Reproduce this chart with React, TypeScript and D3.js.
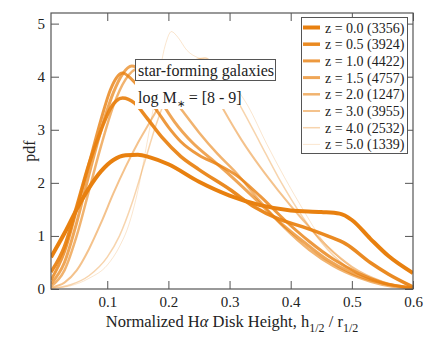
import React, { useEffect, useRef } from "react";
import * as d3 from "d3";

// redshift bins and sample sizes
const zLabels = ["0.0", "0.5", "1.0", "1.5", "2.0", "3.0", "4.0", "5.0"];
const counts = [3356, 3924, 4422, 4757, 1247, 3955, 2532, 1339];

// curves: x = h1/2 / r1/2, y = pdf
const x00 = [0.008, 0.03, 0.05, 0.07, 0.09, 0.11, 0.13, 0.15, 0.17, 0.2, 0.25, 0.3, 0.35, 0.4, 0.45, 0.48, 0.5, 0.53, 0.56, 0.6];
const y00 = [0.6, 1.05, 1.5, 1.9, 2.22, 2.43, 2.52, 2.53, 2.48, 2.35, 2.02, 1.76, 1.58, 1.48, 1.45, 1.42, 1.3, 0.95, 0.62, 0.3];

const x05 = [0.008, 0.03, 0.05, 0.07, 0.09, 0.105, 0.125, 0.145, 0.165, 0.19, 0.22, 0.25, 0.3, 0.34, 0.38, 0.42, 0.46, 0.49, 0.53, 0.56, 0.6];
const y05 = [0.32, 0.8, 1.55, 2.35, 3.0, 3.4, 3.6, 3.5, 3.22, 2.85, 2.5, 2.25, 1.88, 1.55, 1.32, 1.17, 1.0, 0.85, 0.5, 0.28, 0.04];

const x10 = [0.008, 0.03, 0.05, 0.07, 0.09, 0.105, 0.115, 0.125, 0.14, 0.16, 0.18, 0.2, 0.22, 0.25, 0.28, 0.31, 0.35, 0.39, 0.43, 0.47, 0.51, 0.55, 0.6];
const y10 = [0.17, 0.7, 1.5, 2.35, 3.2, 3.75, 3.98, 4.07, 3.95, 3.68, 3.38, 3.05, 2.78, 2.52, 2.35, 2.15, 1.75, 1.3, 0.9, 0.56, 0.3, 0.12, 0.02];

const x15 = [0.008, 0.03, 0.05, 0.07, 0.09, 0.11, 0.125, 0.14, 0.155, 0.17, 0.19, 0.21, 0.24, 0.27, 0.3, 0.34, 0.38, 0.42, 0.46, 0.5, 0.55, 0.6];
const y15 = [0.1, 0.5, 1.25, 2.15, 3.0, 3.7, 4.05, 4.2, 4.12, 3.9, 3.5, 3.15, 2.75, 2.45, 2.15, 1.72, 1.28, 0.9, 0.55, 0.3, 0.11, 0.02];

const x20 = [0.008, 0.03, 0.05, 0.07, 0.09, 0.11, 0.13, 0.15, 0.165, 0.18, 0.2, 0.22, 0.25, 0.28, 0.31, 0.35, 0.39, 0.43, 0.47, 0.51, 0.55, 0.6];
const y20 = [0.05, 0.35, 1.0, 1.85, 2.7, 3.45, 3.95, 4.15, 4.12, 3.98, 3.7, 3.4, 2.95, 2.55, 2.2, 1.65, 1.15, 0.74, 0.43, 0.22, 0.08, 0.01];

const x30 = [0.008, 0.03, 0.05, 0.07, 0.09, 0.11, 0.13, 0.15, 0.17, 0.19, 0.21, 0.23, 0.25, 0.27, 0.29, 0.32, 0.35, 0.38, 0.42, 0.46, 0.5, 0.55, 0.6];
const y30 = [0.03, 0.12, 0.35, 0.75, 1.25, 1.8, 2.3, 2.75, 3.15, 3.55, 3.95, 4.15, 4.1, 3.8, 3.38, 2.8, 2.3, 1.85, 1.3, 0.8, 0.42, 0.14, 0.01];

const x40 = [0.008, 0.04, 0.07, 0.1, 0.12, 0.14, 0.16, 0.18, 0.2, 0.22, 0.24, 0.26, 0.28, 0.3, 0.32, 0.35, 0.38, 0.42, 0.46, 0.5, 0.55, 0.6];
const y40 = [0.01, 0.08, 0.25, 0.6, 1.0, 1.6, 2.35, 3.1, 3.7, 4.1, 4.3, 4.35, 4.15, 3.8, 3.4, 2.75, 2.1, 1.35, 0.75, 0.35, 0.1, 0.01];

const x50 = [0.008, 0.04, 0.07, 0.1, 0.12, 0.135, 0.15, 0.165, 0.18, 0.195, 0.205, 0.215, 0.23, 0.25, 0.27, 0.29, 0.31, 0.33, 0.36, 0.39, 0.42, 0.45, 0.5, 0.55, 0.6];
const y50 = [0.01, 0.06, 0.2, 0.45, 0.8, 1.2, 1.85, 2.75, 3.7, 4.6, 4.85, 4.75, 4.5, 4.35, 4.3, 4.1, 3.8, 3.45, 2.75, 2.1, 1.5, 0.95, 0.4, 0.12, 0.01];

const xs = [x00, x05, x10, x15, x20, x30, x40, x50];
const ys = [y00, y05, y10, y15, y20, y30, y40, y50];

const xTicks = [0.1, 0.2, 0.3, 0.4, 0.5, 0.6];
const yTicks = [0, 1, 2, 3, 4, 5];

const ORANGE = "#e8800f";
const widths = [4, 3.5, 3, 3, 2.5, 2, 1.5, 1];
const alphas = [1, 0.92, 0.8, 0.7, 0.6, 0.48, 0.34, 0.2];

const FONT = "Liberation Serif, Times New Roman, serif";

export default function App() {
  const ref = useRef<SVGSVGElement>(null);

  useEffect(() => {
    const svg = d3.select(ref.current);
    svg.selectAll("*").remove();

    const left = 51, right = 413, top = 13, bottom = 289;
    const x = d3.scaleLinear().domain([0.008, 0.6]).range([left, right]);
    const y = d3.scaleLinear().domain([0, 5.2]).range([bottom, top]);
    const axisCol = "#555";

    const line = d3
      .line<[number, number]>()
      .x((d) => x(d[0]))
      .y((d) => y(d[1]))
      .curve(d3.curveMonotoneX);

    const clip = svg.append("clipPath").attr("id", "plotclip");
    clip.append("rect").attr("x", left).attr("y", top).attr("width", right - left).attr("height", bottom - top);

    // curves, lightest at the back
    const g = svg.append("g").attr("clip-path", "url(#plotclip)");
    for (let i = xs.length - 1; i >= 0; i--) {
      const pts = xs[i].map((v, j) => [v, ys[i][j]] as [number, number]);
      g.append("path")
        .attr("d", line(pts))
        .attr("fill", "none")
        .attr("stroke", ORANGE)
        .attr("stroke-opacity", alphas[i])
        .attr("stroke-width", widths[i]);
    }

    // frame + inward ticks on all sides
    svg.append("g")
      .attr("transform", `translate(0,${bottom})`)
      .call(d3.axisBottom(x).tickValues(xTicks).tickSizeInner(-8).tickSizeOuter(0).tickPadding(7).tickFormat(d3.format(".1f")))
      .call((a) => a.select(".domain").remove())
      .call((a) => a.attr("font-family", FONT).attr("font-size", 15))
      .call((a) => a.selectAll("line").attr("stroke", axisCol))
      .call((a) => a.selectAll("text").attr("fill", "#222"));
    svg.append("g")
      .attr("transform", `translate(0,${top})`)
      .call(d3.axisTop(x).tickValues(xTicks).tickSizeInner(-8).tickSizeOuter(0).tickFormat(() => ""))
      .call((a) => a.select(".domain").remove())
      .call((a) => a.selectAll("line").attr("stroke", axisCol));
    svg.append("g")
      .attr("transform", `translate(${left},0)`)
      .call(d3.axisLeft(y).tickValues(yTicks).tickSizeInner(-8).tickSizeOuter(0).tickPadding(6).tickFormat(d3.format("d")))
      .call((a) => a.select(".domain").remove())
      .call((a) => a.attr("font-family", FONT).attr("font-size", 15))
      .call((a) => a.selectAll("line").attr("stroke", axisCol))
      .call((a) => a.selectAll("text").attr("fill", "#222"));
    svg.append("g")
      .attr("transform", `translate(${right},0)`)
      .call(d3.axisRight(y).tickValues(yTicks).tickSizeInner(-8).tickSizeOuter(0).tickFormat(() => ""))
      .call((a) => a.select(".domain").remove())
      .call((a) => a.selectAll("line").attr("stroke", axisCol));
    svg.append("rect")
      .attr("x", left).attr("y", top).attr("width", right - left).attr("height", bottom - top)
      .attr("fill", "none").attr("stroke", axisCol).attr("stroke-width", 1.2);

    // axis titles
    const xt = svg.append("text")
      .attr("x", (left + right) / 2).attr("y", 327)
      .attr("text-anchor", "middle").attr("font-size", 16.5).attr("fill", "#222");
    xt.append("tspan").text("Normalized H");
    xt.append("tspan").attr("font-style", "italic").text("\u03b1");
    xt.append("tspan").text(" Disk Height, h");
    xt.append("tspan").attr("font-size", 12).attr("dy", 5).text("1/2");
    xt.append("tspan").attr("dy", -5).text(" / r");
    xt.append("tspan").attr("font-size", 12).attr("dy", 5).text("1/2");

    svg.append("text")
      .attr("transform", `translate(35,${(top + bottom) / 2}) rotate(-90)`)
      .attr("text-anchor", "middle").attr("font-size", 16).attr("fill", "#222")
      .text("pdf");

    // annotation
    svg.append("rect").attr("x", 135).attr("y", 81).attr("width", 105).attr("height", 28).attr("fill", "white");
    svg.append("rect").attr("x", 135.5).attr("y", 59.5).attr("width", 140).attr("height", 21)
      .attr("fill", "white").attr("stroke", axisCol);
    svg.append("text").attr("x", 138).attr("y", 76).attr("font-size", 16).attr("fill", "#222")
      .text("star-forming galaxies");
    const lm = svg.append("text").attr("x", 138).attr("y", 103).attr("font-size", 16).attr("fill", "#222");
    lm.append("tspan").text("log M");
    lm.append("tspan").attr("font-size", 10).attr("dy", 4).text("\u2217");
    lm.append("tspan").attr("dy", -4).text(" = [8 - 9]");

    // legend
    svg.append("rect").attr("x", 301.5).attr("y", 17.5).attr("width", 106).attr("height", 136)
      .attr("fill", "white").attr("stroke", axisCol);
    zLabels.forEach((z, i) => {
      const yy = 27.5 + i * 16.7;
      svg.append("line").attr("x1", 303).attr("x2", 320).attr("y1", yy).attr("y2", yy)
        .attr("stroke", ORANGE).attr("stroke-opacity", alphas[i]).attr("stroke-width", widths[i]);
      svg.append("text").attr("x", 325).attr("y", yy + 5)
        .attr("font-size", 14).attr("fill", "#222")
        .text(`z = ${z} (${counts[i]})`);
    });
  }, []);

  return (
    <svg
      ref={ref}
      width={436}
      height={337}
      fontFamily={FONT}
      style={{ position: "absolute", left: 0, top: 0, background: "white" }}
    />
  );
}
